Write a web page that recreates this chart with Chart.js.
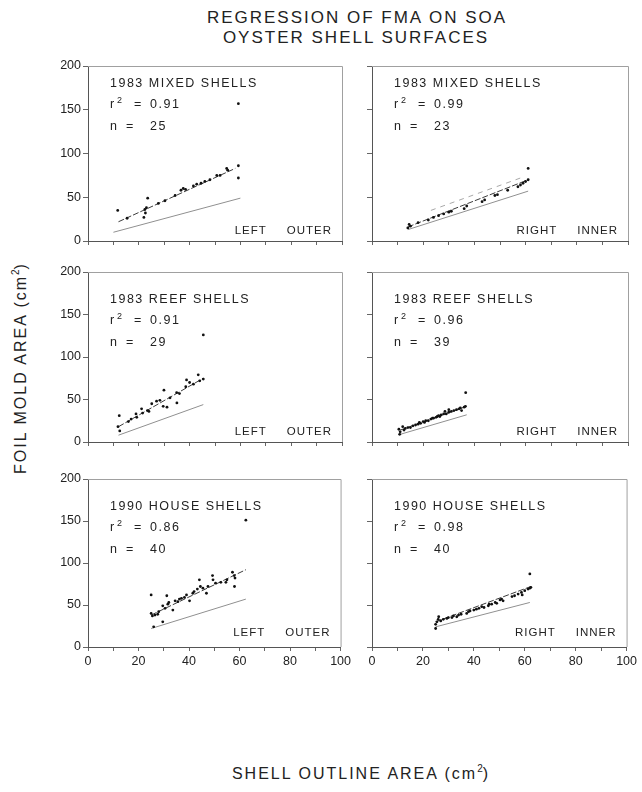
<!DOCTYPE html>
<html>
<head>
<meta charset="utf-8">
<script src="https://cdn.jsdelivr.net/npm/chart.js@4"></script>
<style>
  body { margin:0; background:#fff; }
  #wrap { position:relative; width:642px; height:792px; font-family:"Liberation Sans", Arial, sans-serif; color:#222; overflow:hidden; }
  .t { position:absolute; white-space:nowrap; transform:translate(-50%,-50%); }
  .title { font-size:17px; letter-spacing:2px; }
  .axt { font-size:16px; letter-spacing:2px; }
  sup { font-size:10px; letter-spacing:0; }
</style>
</head>
<body>
<div id="wrap">
  <div class="t title" style="left:357px;top:18px;">REGRESSION OF FMA ON SOA</div>
  <div class="t title" style="left:356px;top:38px;">OYSTER SHELL SURFACES</div>
  <div class="t axt" style="left:20px;top:368px;transform:translate(-50%,-50%) rotate(-90deg);">FOIL MOLD AREA (cm<sup>2</sup>)</div>
  <div class="t axt" style="left:361px;top:773px;">SHELL OUTLINE AREA (cm<sup>2</sup>)</div>
</div>
<script>
// ---------- data ----------
const xTickValues = [0, 20, 40, 60, 80, 100];
const yTickValues = [0, 50, 100, 150, 200];

const panelTitles = ['1983 MIXED SHELLS', '1983 MIXED SHELLS', '1983 REEF SHELLS', '1983 REEF SHELLS', '1990 HOUSE SHELLS', '1990 HOUSE SHELLS'];
const r2Values = ['0.91', '0.99', '0.91', '0.96', '0.86', '0.98'];
const nValues = ['25', '23', '29', '39', '40', '40'];
const sideLabels = [['LEFT', 'OUTER'], ['RIGHT', 'INNER'], ['LEFT', 'OUTER'], ['RIGHT', 'INNER'], ['LEFT', 'OUTER'], ['RIGHT', 'INNER']];

// 1983 mixed, left outer
const mixedLeftPts = [[11.7,35],[15.4,26],[22.4,36],[23,38],[22.6,32],[22,27],[23.5,49],[27.7,43],[30.3,46],[34.3,52],[36.6,58],[37.5,60],[38.4,59],[41.5,63],[42.8,65],[44.5,66],[46,68],[48,70],[50.7,75],[52,75],[54.6,83],[55,81],[59.2,86],[59.2,72],[59.2,157]];
const mixedLeftReg = [[12,22],[58,83]];
const mixedLeftLow = [[10,10],[60,49]];

// 1983 mixed, right inner
const mixedRightPts = [[14,15],[14.5,19],[15,17],[18,21],[22,24],[24,27],[26,29],[28,31],[30,33],[31,34],[36,37],[37,40],[43,45],[44,47],[48,52],[49,53],[53,58],[57,62],[58,64],[59,66],[60,68],[61,70],[61,83]];
const mixedRightReg = [[14,16],[61,70]];
const mixedRightLow = [[14,13],[61,57]];
const mixedRightUp = [[23,35],[58,72]];

// 1983 reef, left outer
const reefLeftPts = [[12.3,31],[11.8,18],[12.5,13],[15.9,24],[17,27],[19.2,29],[18.9,33],[21.1,39],[21.5,34],[23.4,37],[24,36],[25.1,45],[27,48],[28.3,49],[29.6,42],[31.1,41],[29.9,61],[32.3,52],[34.9,58],[35,46],[36,57],[38.5,65],[38.8,73],[40,70],[41.5,68],[43.4,79],[44,72],[45.4,74],[45.4,126]];
const reefLeftReg = [[12,18],[45.4,75]];
const reefLeftLow = [[12,8],[45.4,44]];

// 1983 reef, right inner
const reefRightPts = [[10.5,15],[10.8,9],[11,12],[12,18],[12.5,14],[13,16],[14,17],[15,17],[16,19],[17,20],[18,21],[18.5,23],[19,22],[20,24],[20.5,23],[21,25],[22,25],[23,27],[23.6,28],[24,28],[25,29],[25.5,30],[26,31],[26.5,30],[27,32],[28,33],[28.5,36],[29,33],[30,35],[30,38],[31,36],[32,37],[33,38],[34,39],[34.5,40],[35,37],[36,41],[36.5,42],[36.6,58]];
const reefRightReg = [[11,14],[37,42]];
const reefRightLow = [[11,9],[37,32]];

// 1990 house, left outer
const houseLeftPts = [[25,62],[25,40],[25.5,37],[26,24],[26.5,38],[27.6,39],[28,42],[29.6,49],[29.6,30],[30.5,46],[31.2,61],[31.6,51],[32,53],[33.6,44],[34.5,55],[35.6,54],[36.2,57],[37,58],[38.2,59],[39,62],[40.2,55],[41.5,64],[42,66],[43.3,69],[44.1,80],[44.5,72],[45.5,70],[46.9,64],[47.5,72],[49.3,85],[49.5,80],[50.5,76],[52.6,77],[54.6,77],[55,80],[57.2,89],[57.9,85],[58.2,82],[58,72],[62.5,151]];
const houseLeftReg = [[25,38],[62.5,92]];
const houseLeftLow = [[25,22],[62.5,57]];

// 1990 house, right inner
const houseRightPts = [[25,22],[25,27],[25.5,30],[26,33],[26.2,36],[27,31],[28,33],[29.4,34],[30,35],[31.4,35],[32,37],[33.3,36],[34,38],[35,39],[37.2,40],[37.9,42],[38.5,43],[40,44],[41,45],[42,46],[43.1,48],[44,47],[45.7,49],[46,51],[47,51],[48.4,53],[49,52],[50.3,56],[50.9,57],[51.5,55],[55,60],[56,61],[57.4,63],[58.7,65],[59,62],[60,67],[61.3,69],[62,70],[62.4,71],[62,87]];
const houseRightReg = [[25,30],[62.4,72]];
const houseRightLow = [[25,24],[62,53]];

const panelPoints = [mixedLeftPts, mixedRightPts, reefLeftPts, reefRightPts, houseLeftPts, houseRightPts];
const panelReg = [mixedLeftReg, mixedRightReg, reefLeftReg, reefRightReg, houseLeftReg, houseRightReg];
const panelLow = [mixedLeftLow, mixedRightLow, reefLeftLow, reefRightLow, houseLeftLow, houseRightLow];
const panelUp = [null, mixedRightUp, null, null, null, null];

// ---------- layout ----------
const colLeft = [88, 372];
const colWidth = [254, 256];
const rowTop = [66, 272, 479];
const rowH = [175, 170, 168];
const AX = 40, PT = 10, PR = 12, XH = 24;
const textTop = [18, 28, 28];
const sideOff = [10, 10, 14];
const FONT = '"Liberation Sans", Arial, sans-serif';

const toXY = arr => arr.map(p => ({x: p[0], y: p[1]}));

const annotate = {
  id: 'annotate',
  afterDraw(chart, args, opts) {
    const {ctx, chartArea: a} = chart;
    ctx.save();
    ctx.strokeStyle = '#a0a0a0';
    ctx.lineWidth = 1;
    ctx.beginPath();
    ctx.moveTo(a.left, a.top + 0.5); ctx.lineTo(a.right + 0.5, a.top + 0.5); ctx.lineTo(a.right + 0.5, a.bottom);
    ctx.stroke();
    ctx.fillStyle = '#222';
    ctx.textBaseline = 'middle';
    ctx.textAlign = 'left';
    ctx.font = '12.5px ' + FONT;
    ctx.letterSpacing = '1.5px';
    const tx = a.left + 22, ty = a.top + opts.tOff;
    ctx.fillText(opts.title, tx, ty);
    ctx.fillText('r', tx, ty + 21);
    ctx.font = '9px ' + FONT;
    ctx.fillText('2', tx + 7, ty + 17);
    ctx.font = '12.5px ' + FONT;
    ctx.fillText('=', tx + 24, ty + 21);
    ctx.fillText(opts.r2, tx + 40, ty + 21);
    ctx.fillText('n', tx, ty + 43);
    ctx.fillText('=', tx + 16, ty + 43);
    ctx.fillText(opts.n, tx + 40, ty + 43);
    ctx.font = '11.5px ' + FONT;
    ctx.letterSpacing = '1px';
    ctx.textAlign = 'right';
    const w2 = ctx.measureText(opts.side[1]).width;
    ctx.fillText(opts.side[1], a.right - 10, a.bottom - opts.sOff);
    ctx.fillText(opts.side[0], a.right - 10 - w2 - 20, a.bottom - opts.sOff);
    ctx.restore();
  }
};

const wrap = document.getElementById('wrap');
for (let i = 0; i < 6; i++) {
  const c = i % 2, r = Math.floor(i / 2);
  const W = AX + colWidth[c] + PR, H = PT + rowH[r] + XH;
  const cv = document.createElement('canvas');
  cv.width = W; cv.height = H;
  cv.style.cssText = `position:absolute;left:${colLeft[c] - AX}px;top:${rowTop[r] - PT}px;width:${W}px;height:${H}px;`;
  wrap.appendChild(cv);
  const datasets = [
    {type: 'line', data: toXY(panelReg[i]), borderColor: '#3c3c3c', borderWidth: 1, borderDash: [6, 2], pointRadius: 0, showLine: true, order: 2},
    {type: 'line', data: toXY(panelLow[i]), borderColor: '#909090', borderWidth: 1, pointRadius: 0, showLine: true, order: 3},
  ];
  if (panelUp[i]) datasets.push({type: 'line', data: toXY(panelUp[i]), borderColor: '#a8a8a8', borderWidth: 1, borderDash: [5, 5], pointRadius: 0, showLine: true, order: 4});
  datasets.push({type: 'scatter', data: toXY(panelPoints[i]), backgroundColor: '#111', borderColor: '#111', pointRadius: 1.4, borderWidth: 0, order: 1});
  new Chart(cv, {
    type: 'scatter',
    data: {datasets},
    options: {
      responsive: false, animation: false, events: [],
      layout: {padding: {top: PT, right: PR, left: 0, bottom: 0}, autoPadding: false},
      plugins: {legend: {display: false}, tooltip: {enabled: false},
        annotate: {title: panelTitles[i], r2: r2Values[i], n: nValues[i], side: sideLabels[i], tOff: textTop[r], sOff: sideOff[r]}},
      scales: {
        x: {
          type: 'linear', min: 0, max: 100,
          afterFit(s) { s.height = XH; },
          afterBuildTicks(s) { s.ticks = [0,10,20,30,40,50,60,70,80,90,100].map(v => ({value: v})); },
          ticks: {
            padding: 3, color: '#222', font: {size: 12.5, family: FONT}, maxRotation: 0, autoSkip: false,
            callback: v => (r === 2 && xTickValues.includes(v)) ? String(v) : ''
          },
          grid: {drawOnChartArea: false, drawTicks: true, tickLength: 4, color: '#666'},
          border: {display: true, color: '#555', width: 1}
        },
        y: {
          type: 'linear', min: 0, max: 200,
          afterFit(s) { s.width = AX; },
          afterBuildTicks(s) { s.ticks = yTickValues.map(v => ({value: v})); },
          ticks: {
            padding: 2, color: '#222', font: {size: 12.5, family: FONT},
            callback: v => c === 0 ? String(v) : ''
          },
          grid: {drawOnChartArea: false, drawTicks: true, tickLength: 5, color: '#666'},
          border: {display: true, color: '#555', width: 1}
        }
      }
    },
    plugins: [annotate]
  });
}
</script>
</body>
</html>
